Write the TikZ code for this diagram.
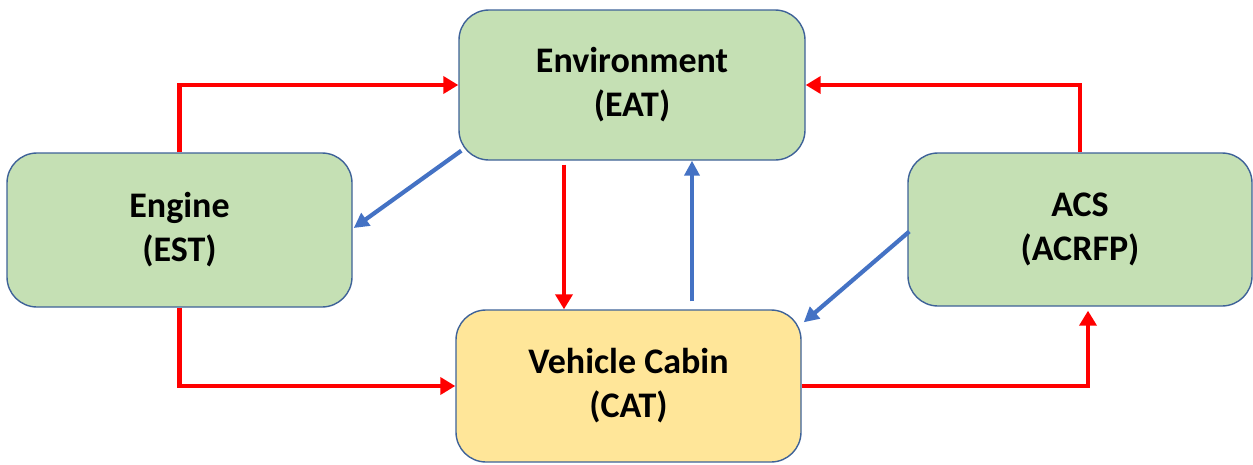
\documentclass[tikz,border=0pt]{standalone}
\usepackage{fontspec}
\setmainfont{Carlito}
\usetikzlibrary{arrows.meta,calc}

\definecolor{boxgreen}{HTML}{C5E0B4}
\definecolor{boxyellow}{HTML}{FFE699}
\definecolor{boxedge}{HTML}{3E6298}
\definecolor{flowred}{HTML}{FF0000}
\definecolor{flowblue}{HTML}{4472C4}

\tikzset{
  block/.style={draw=boxedge, line width=1.4pt, rounded corners=30pt,
    inner sep=0pt, align=center,
    font=\fontsize{36}{44}\selectfont\bfseries},
  greenblock/.style={block, fill=boxgreen},
  yellowblock/.style={block, fill=boxyellow},
  redflow/.style={draw=flowred, line width=4.8pt,
    -{Triangle[length=15pt,width=17pt]}},
  blueflow/.style={draw=flowblue, line width=4.2pt,
    -{Triangle[length=15pt,width=15pt]}}
}

\begin{document}
\begin{tikzpicture}[x=1pt,y=-1pt]
  % canvas
  \useasboundingbox (0,0) rectangle (1253,464);

  % blocks
  \node[greenblock, minimum width=346pt, minimum height=150pt] (env) at (632,85)
    {Environment\\(EAT)};
  \node[greenblock, minimum width=345pt, minimum height=154pt] (eng) at (179.5,230)
    {Engine\\(EST)};
  \node[greenblock, minimum width=344pt, minimum height=153pt] (acs) at (1080,229.5)
    {ACS\\(ACRFP)};
  \node[yellowblock, minimum width=345pt, minimum height=152pt] (cab) at (628.5,386)
    {Vehicle Cabin\\(CAT)};

  % helper points on the environment block
  \coordinate (envdown) at ($(env.south)+(-68,0)$);
  \coordinate (envup) at ($(env.south)+(60,0)$);
  \coordinate (acsin) at ($(acs.south)+(8,0)$);

  % red flows
  \draw[redflow] (eng.north) |- (env.west);
  \draw[redflow] (acs.north) |- (env.east);
  \draw[redflow] ($(envdown)+(0,4)$) -- (envdown |- cab.north);
  \draw[redflow] (eng.south) |- (cab.west);
  \draw[redflow] (cab.east) -| ($(acsin)+(0,4)$);

  % blue flows
  \draw[blueflow] ($(envup |- cab.north)+(0,-8)$) -- (envup);
  \draw[blueflow] ($(env.south west)+(3,-10)$) -- ($(eng.east)+(1,-2)$);
  \draw[blueflow] ($(acs.west)+(2,2)$) -- ($(cab.north east)+(2,13)$);
\end{tikzpicture}
\end{document}
